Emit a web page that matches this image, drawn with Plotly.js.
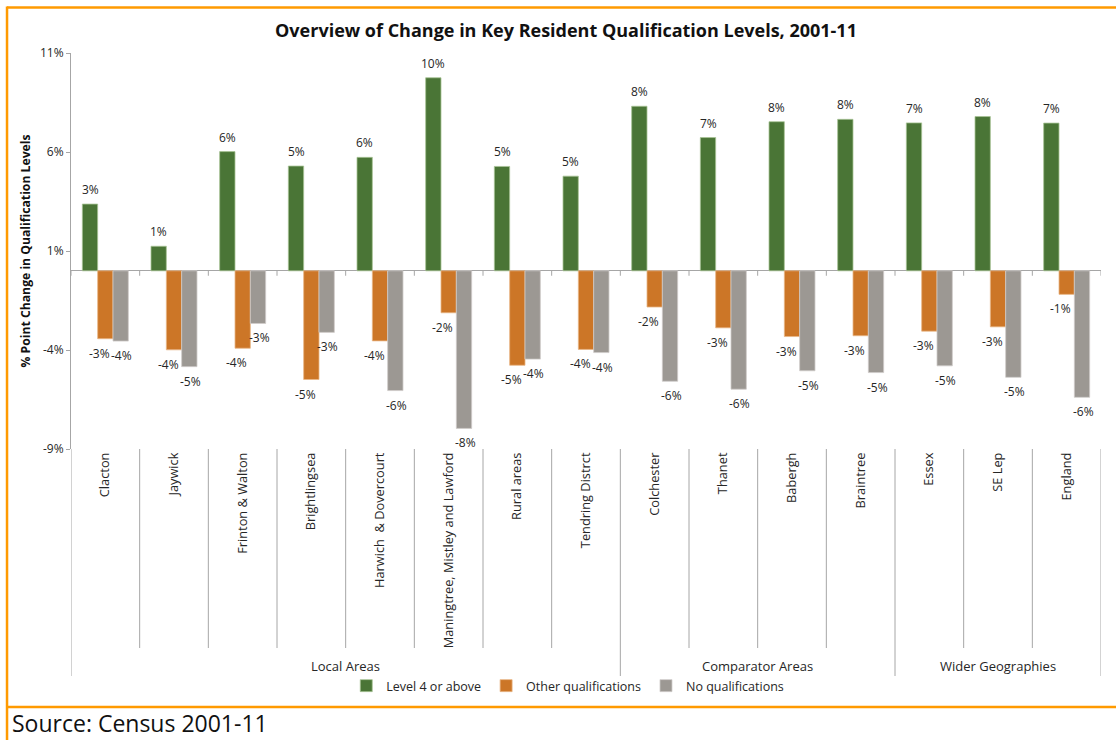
<!DOCTYPE html>
<html>
<head>
<meta charset="utf-8">
<script src="https://cdn.plot.ly/plotly-3.0.1.min.js"></script>
<style>
  html, body { margin: 0; padding: 0; background: #ffffff; }
  #chart { width: 1116px; height: 740px; }
</style>
</head>
<body>
<div id="chart"></div>
<script>
// ---------------- data ----------------
const categories = [
  "Clacton", "Jaywick", "Frinton & Walton", "Brightlingsea", "Harwich  & Dovercourt",
  "Maningtree, Mistley and Lawford", "Rural areas", "Tendring Distrct",
  "Colchester", "Thanet", "Babergh", "Braintree",
  "Essex", "SE Lep", "England"
];
const groupNames = ["Local Areas", "Comparator Areas", "Wider Geographies"];
const groupSizes = [8, 4, 3];

const level4 = [3.37, 1.24, 6.02, 5.29, 5.73, 9.75, 5.27, 4.78, 8.31, 6.73, 7.53, 7.65, 7.47, 7.79, 7.46];
const otherQual = [-3.43, -3.99, -3.91, -5.49, -3.54, -2.12, -4.77, -3.97, -1.83, -2.88, -3.32, -3.28, -3.05, -2.83, -1.19];
const noQual = [-3.55, -4.84, -2.66, -3.11, -6.05, -7.96, -4.46, -4.13, -5.58, -5.98, -5.05, -5.14, -4.80, -5.38, -6.39];

const yTickVals = [-9, -4, 1, 6, 11];
const yTickText = ["-9%", "-4%", "1%", "6%", "11%"];

const seriesNames = ["Level 4 or above", "Other qualifications", "No qualifications"];
const titleText = "Overview of Change in Key Resident Qualification Levels, 2001-11";
const yTitleText = "% Point Change in Qualification Levels";
const sourceText = "Source: Census 2001-11";

// ---------------- layout geometry ----------------
const W = 1116, H = 740;
const M = { l: 71, r: 14.5, t: 53, b: 291 };
const plotW = W - M.l - M.r, plotH = H - M.t - M.b;
const px2x = px => (px - M.l) / plotW;          // page px -> paper x
const py2y = py => (H - M.b - py) / plotH;       // page px -> paper y

const FONT = "Open Sans, Noto Sans, sans-serif";
const colors = ["#4A7536", "#CC7627", "#9C9893"];
const edge = ["#A8C496", "#E9B687", "#CFCCC9"];
const BARGAP = 0.33;
const nSeries = 3;
const barW = (1 - BARGAP) / nSeries;
const labelXShift = [0, -6, 1];

const idx = categories.map((c, i) => i);
const values = [level4, otherQual, noQual];

const traces = values.map((vals, k) => ({
  type: "bar",
  name: seriesNames[k],
  x: idx,
  y: vals,
  marker: { color: colors[k], line: { color: edge[k], width: 0.8 } },
  hoverinfo: "skip"
}));

// ---------------- shapes ----------------
const shapes = [];
for (let i = 0; i <= categories.length; i++) {
  shapes.push({ type: "line", xref: "x", yref: "paper", x0: i - 0.5, x1: i - 0.5,
    y0: 0, y1: py2y(648), line: { color: "#a6a6a6", width: 1 } });
  shapes.push({ type: "line", xref: "x", yref: "y", x0: i - 0.5, x1: i - 0.5,
    y0: 0, y1: -0.25, line: { color: "#a6a6a6", width: 1 } });
}
let b = 0;
const groupBounds = [-0.5];
groupSizes.forEach(s => { b += s; groupBounds.push(b - 0.5); });
groupBounds.forEach(gx => {
  shapes.push({ type: "line", xref: "x", yref: "paper", x0: gx, x1: gx,
    y0: py2y(648), y1: py2y(676), line: { color: "#a6a6a6", width: 1 } });
});
const orange = "#FF9A00";
shapes.push({ type: "line", xref: "paper", yref: "paper", x0: px2x(7), x1: px2x(1130), y0: py2y(7.5), y1: py2y(7.5), line: { color: orange, width: 2.5 } });
shapes.push({ type: "line", xref: "paper", yref: "paper", x0: px2x(7), x1: px2x(1130), y0: py2y(707), y1: py2y(707), line: { color: orange, width: 2.5 } });
shapes.push({ type: "line", xref: "paper", yref: "paper", x0: px2x(7), x1: px2x(7), y0: py2y(6.5), y1: py2y(745), line: { color: orange, width: 2.5 } });

// ---------------- annotations ----------------
const annotations = [];
values.forEach((vals, k) => {
  vals.forEach((v, i) => {
    annotations.push({
      text: Math.round(v) + "%",
      xref: "x", yref: "y",
      x: i + (k - (nSeries - 1) / 2) * barW, y: v,
      xanchor: "center", yanchor: v >= 0 ? "bottom" : "top",
      yshift: v >= 0 ? 4 : -4, xshift: labelXShift[k],
      showarrow: false,
      font: { family: FONT, size: 12, color: "#262626" }
    });
  });
});
let start = 0;
groupNames.forEach((g, k) => {
  const center = start + (groupSizes[k] - 1) / 2;
  annotations.push({ text: g, xref: "x", yref: "paper", x: center, y: py2y(666),
    xanchor: "center", yanchor: "middle", showarrow: false,
    font: { family: FONT, size: 13, color: "#262626" } });
  start += groupSizes[k];
});
annotations.push({ text: sourceText, xref: "paper", yref: "paper", x: px2x(10), y: py2y(723),
  xanchor: "left", yanchor: "middle", showarrow: false,
  font: { family: FONT, size: 23, color: "#111111" } });

const layout = {
  width: W, height: H,
  margin: M,
  paper_bgcolor: "#ffffff", plot_bgcolor: "#ffffff",
  font: { family: FONT, color: "#262626" },
  title: { text: "<b>" + titleText + "</b>", x: 566 / W, xanchor: "center",
    y: 1 - 31 / H, yanchor: "middle", font: { family: FONT, size: 18, color: "#111111" } },
  barmode: "group",
  bargap: BARGAP,
  bargroupgap: 0,
  showlegend: true,
  legend: { orientation: "h", x: px2x(568), xanchor: "center", y: py2y(686), yanchor: "middle",
    font: { family: FONT, size: 12.5, color: "#262626" }, itemwidth: 30, traceorder: "normal",
    bgcolor: "rgba(0,0,0,0)" },
  xaxis: {
    type: "linear",
    range: [-0.5, categories.length - 0.5],
    tickmode: "array", tickvals: idx, ticktext: categories,
    tickangle: -90, ticks: "", showline: false, showgrid: false, zeroline: false,
    tickfont: { family: FONT, size: 12.8, color: "#262626" },
    fixedrange: true
  },
  yaxis: {
    range: [-9, 11],
    tickmode: "array", tickvals: yTickVals, ticktext: yTickText,
    ticks: "outside", ticklen: 4, tickcolor: "#a6a6a6",
    showline: true, linecolor: "#a6a6a6", linewidth: 1,
    showgrid: false,
    zeroline: true, zerolinecolor: "#a6a6a6", zerolinewidth: 1,
    tickfont: { family: FONT, size: 12, color: "#262626" },
    title: { text: "<b>" + yTitleText + "</b>", font: { family: FONT, size: 12.2, color: "#111111" }, standoff: 6 },
    fixedrange: true
  },
  shapes: shapes,
  annotations: annotations
};

Plotly.newPlot("chart", traces, layout, { displayModeBar: false, staticPlot: true });
</script>
</body>
</html>
